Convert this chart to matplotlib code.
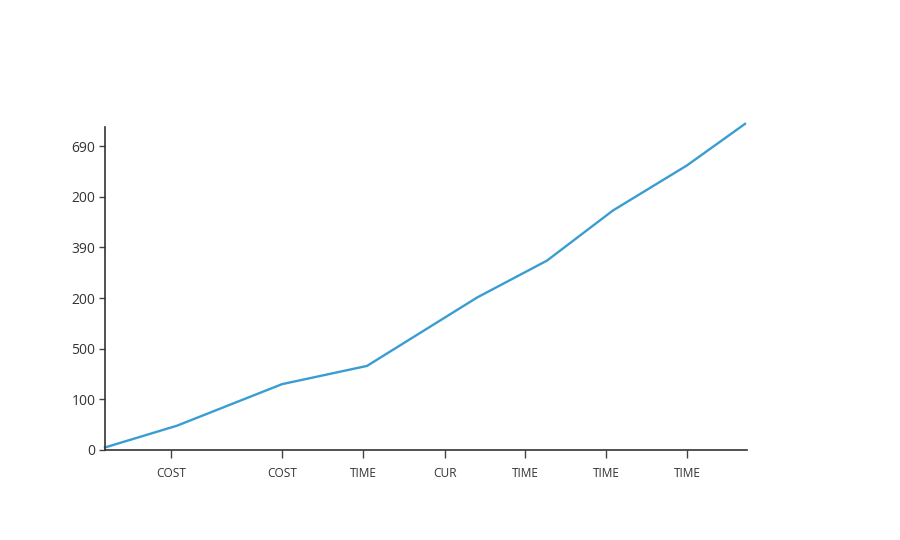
import matplotlib
matplotlib.use("Agg")
import matplotlib.pyplot as plt

# Data (x in arbitrary position units, y in tick steps)
x_vals = [0, 7.2, 17.7, 26.2, 37.2, 44.2, 50.8, 58.2, 64.0]
y_vals = [0.05, 0.48, 1.30, 1.66, 3.01, 3.74, 4.73, 5.62, 6.44]

x_tick_pos = [6.6, 17.7, 25.8, 34.0, 42.0, 50.1, 58.2]
x_tick_labels = ["COST", "COST", "TIME", "CUR", "TIME", "TIME", "TIME"]

y_tick_pos = [0, 1, 2, 3, 4, 5, 6]
y_tick_labels = ["0", "100", "500", "200", "390", "200", "690"]

plt.rcParams['font.family'] = ['Open Sans', 'DejaVu Sans']

fig = plt.figure(figsize=(9, 5.4), dpi=100)
ax = fig.add_axes([0.1167, 0.1667, 0.7133, 0.5983])

ax.plot(x_vals, y_vals, color='#3a9dd2', linewidth=1.7, clip_on=False)

ax.set_xlim(0, 64.2)
ax.set_ylim(0, 6.38)

ax.set_xticks(x_tick_pos)
ax.set_xticklabels(x_tick_labels, fontsize=8.6, color='#333333')
ax.set_yticks(y_tick_pos)
ax.set_yticklabels(y_tick_labels, fontsize=10, color='#333333')

ax.tick_params(axis='x', length=6, width=1, color='#444444', pad=6)
ax.tick_params(axis='y', length=4, width=1, color='#444444', pad=3)

for side in ['top', 'right']:
    ax.spines[side].set_visible(False)
for side in ['left', 'bottom']:
    ax.spines[side].set_color('#333333')
    ax.spines[side].set_linewidth(1.2)

fig.savefig('out.png', dpi=100)
